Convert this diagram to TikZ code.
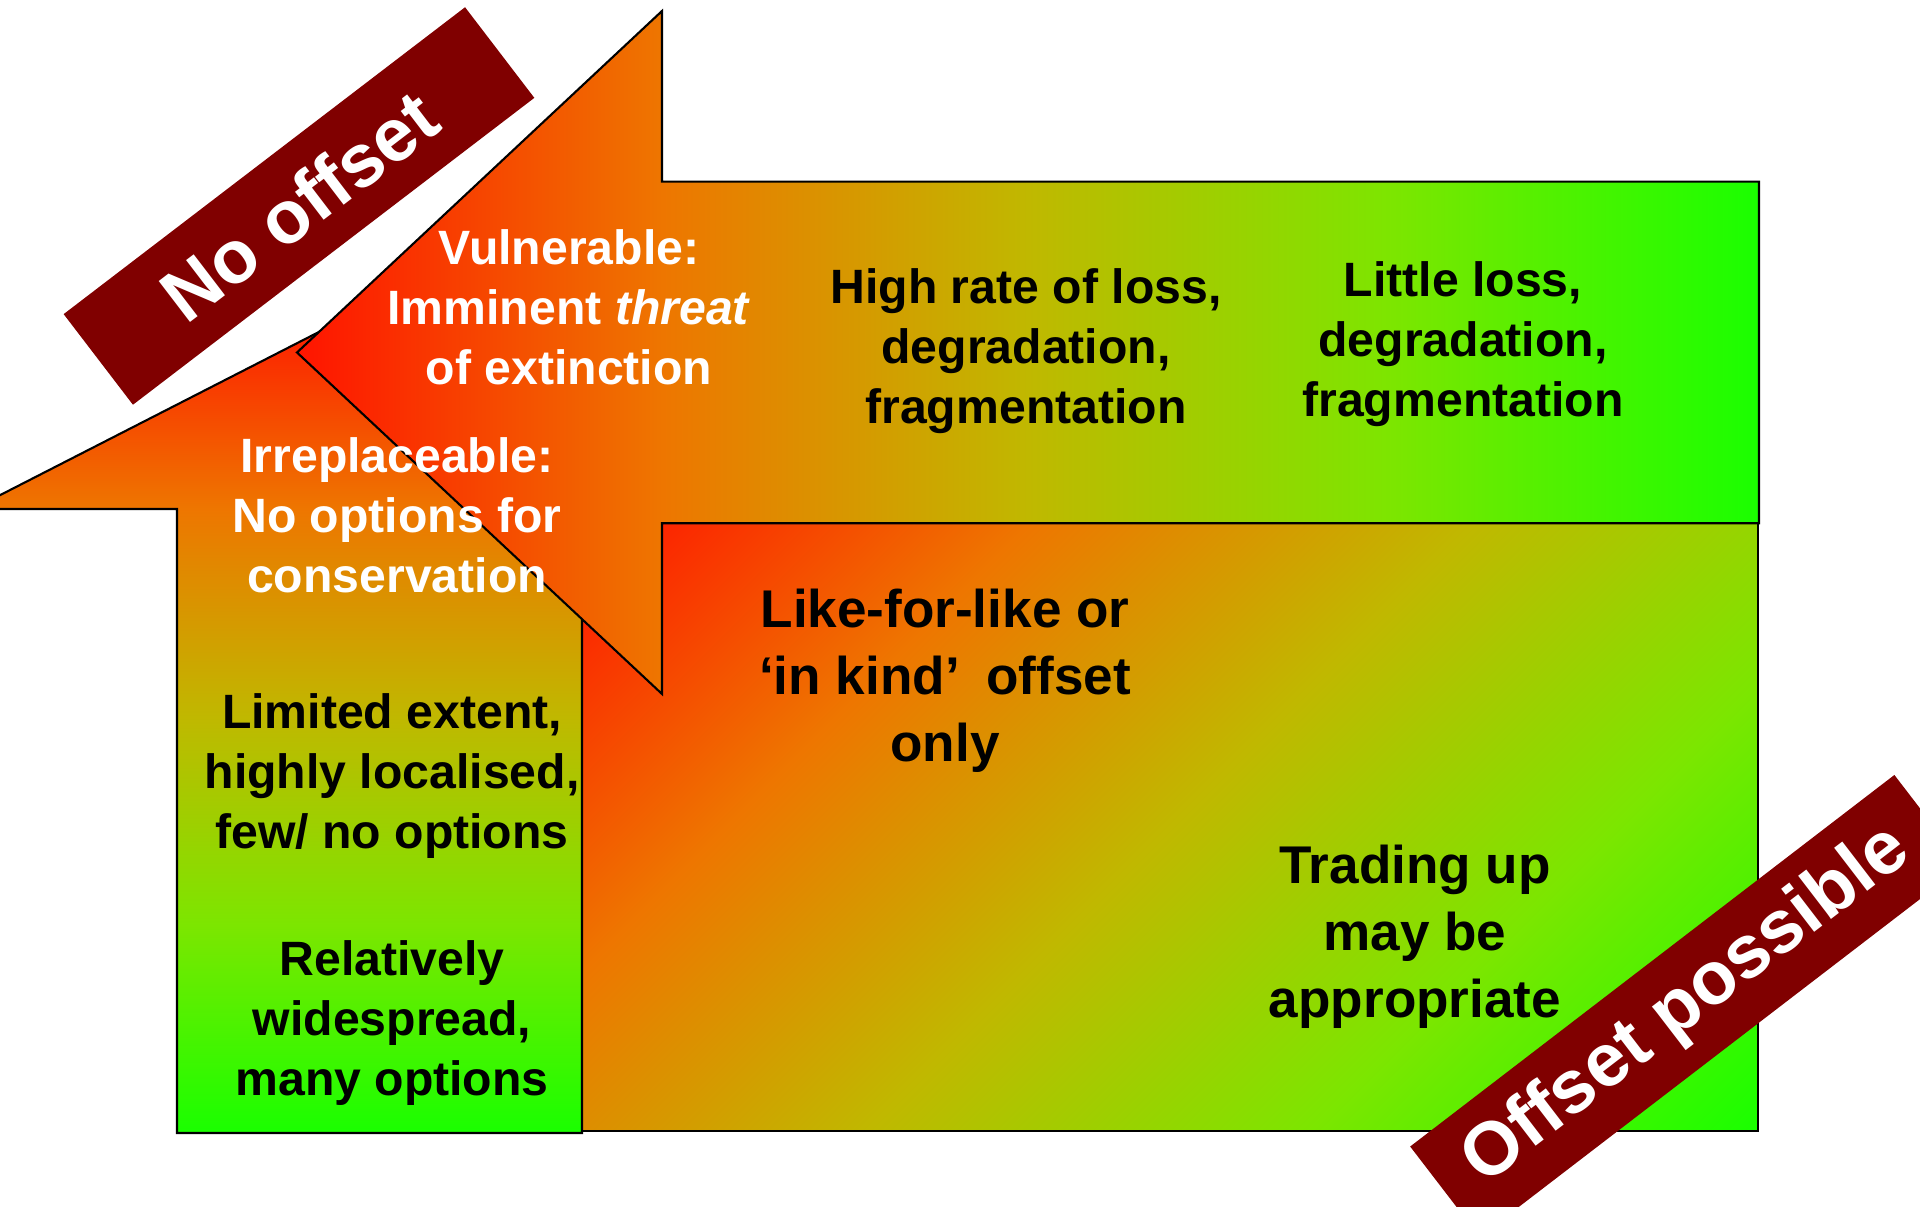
\documentclass[tikz,border=0pt]{standalone}
\usepackage{fontspec}
\setmainfont{Liberation Sans}
\usepackage{tikz}
\definecolor{lossred}{RGB}{255,20,0}
\definecolor{lossorange}{RGB}{238,118,0}
\definecolor{lossolive}{RGB}{192,184,0}
\definecolor{losslime}{RGB}{124,230,0}
\definecolor{lossgreen}{RGB}{26,255,0}
\definecolor{bannerred}{HTML}{800000}
% red -> green, bright in the middle
\pgfdeclarehorizontalshading{lossacross}{100bp}{%
  color(0bp)=(lossred); color(25bp)=(lossred); color(37.5bp)=(lossorange);
  color(50bp)=(lossolive); color(62.5bp)=(losslime); color(75bp)=(lossgreen);
  color(100bp)=(lossgreen)}
\pgfdeclareverticalshading{lossup}{100bp}{%
  color(0bp)=(lossgreen); color(25bp)=(lossgreen); color(37.5bp)=(losslime);
  color(50bp)=(lossolive); color(62.5bp)=(lossorange); color(75bp)=(lossred);
  color(100bp)=(lossred)}
\pgfdeclarehorizontalshading{lossdiag}{100bp}{%
  color(0bp)=(lossred); color(14.6bp)=(lossred); color(32.3bp)=(lossorange);
  color(50bp)=(lossolive); color(67.7bp)=(losslime); color(85.4bp)=(lossgreen);
  color(100bp)=(lossgreen)}
\tikzset{
  % ---- shapes ---------------------------------------------------------
  zone/.style={draw=black, line width=0.6pt},
  % ---- texts ----------------------------------------------------------
  cell/.style={font=\fontsize{13.7}{17.1}\selectfont\bfseries,
    align=center, inner sep=0pt},
  cellw/.style={cell, text=white},
  cellbig/.style={cell, font=\fontsize{15.1}{19.1}\selectfont\bfseries},
  banner/.style={fill=bannerred, text=white, inner sep=0pt,
    minimum height=11.4mm, font=\fontsize{21.3}{25}\selectfont\bfseries},
}

\begin{document}
\begin{tikzpicture}[x=0.01cm, y=-0.01cm]
\useasboundingbox (0,0) rectangle (1920,1207);
\clip (0,0) rectangle (1920,1207);

% ---------------- offset panel ---------------------------------------
\shadedraw[zone, shading=lossdiag, shading angle=-45]
  (582,523) rectangle (1758,1131);

% ---------------- upward arrow ---------------------------------------
\shadedraw[zone, shading=lossup]
  (379.5,301) -- (786,509) -- (582,509) -- (582,1133) -- (177,1133)
  -- (177,509) -- (-27,509) -- cycle;

% ---------------- leftward arrow -------------------------------------
\shadedraw[zone, shading=lossacross]
  (297,352.5) -- (662,11) -- (662,181.7) -- (1759,181.7) -- (1759,523.3)
  -- (662,523.3) -- (662,694) -- cycle;

% ---------------- labels ---------------------------------------------
\node[cellw] (vuln) at (569,307)
  {Vulnerable:\\Imminent \textit{threat}\\of extinction};
\node[cellw] (irrepl) at (397,515)
  {Irreplaceable:\\No options for\\conservation};
\node[cell] (highloss) at (1026,351)
  {High rate of loss,\\degradation,\\fragmentation};
\node[cell] (lowloss) at (1463,344)
  {Little loss,\\degradation,\\fragmentation};
\node[cell] (limited) at (392,776)
  {Limited extent,\\highly localised,\\few/ no options};
\node[cell] (widespread) at (392,1023)
  {Relatively\\widespread,\\many options};
\node[cellbig] (inkind) at (945,681)
  {Like-for-like or\\‘in kind’\hspace{0.5em}offset\\only};
\node[cellbig] (tradeup) at (1415,937)
  {Trading up\\may be\\appropriate};

% ---------------- banners --------------------------------------------
\node[banner, minimum width=50.5mm, rotate=37.4] (nooffset)
  at (299,206) {No offset};
\node[banner, minimum width=61mm, rotate=37.5] (offsetok)
  at (1687,1006) {Offset possible};

\end{tikzpicture}
\end{document}
